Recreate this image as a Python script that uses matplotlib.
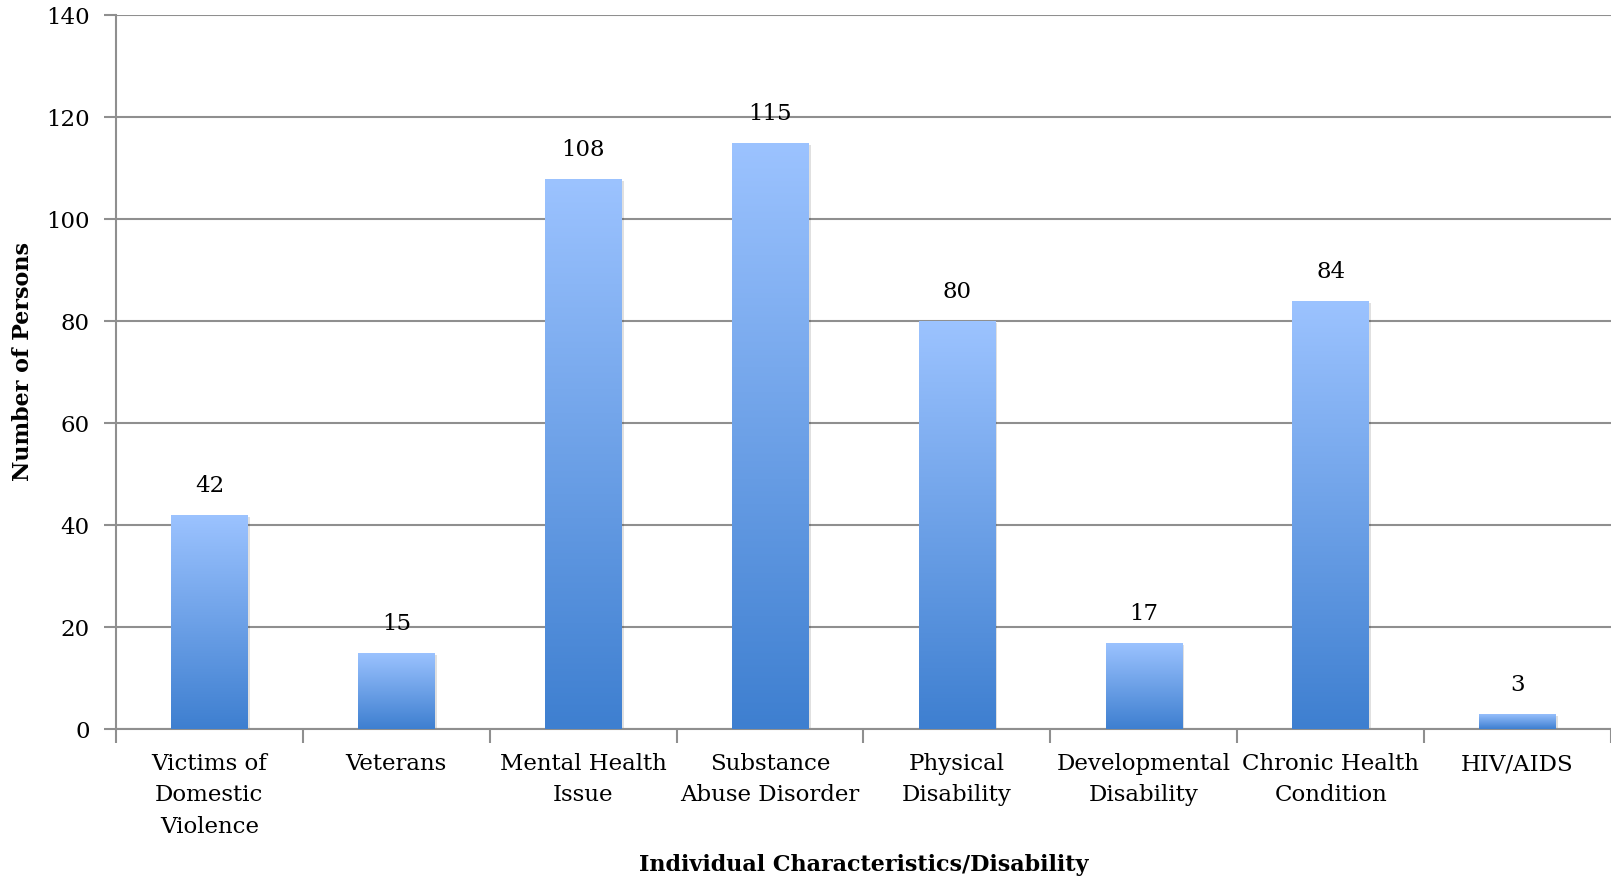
import matplotlib.pyplot as plt
import numpy as np
from matplotlib.colors import LinearSegmentedColormap
from matplotlib.patches import Rectangle

# Datos del gráfico
categorias = ["Victims of\nDomestic\nViolence", "Veterans", "Mental Health\nIssue",
              "Substance\nAbuse Disorder", "Physical\nDisability", "Developmental\nDisability",
              "Chronic Health\nCondition", "HIV/AIDS"]
personas = [42, 15, 108, 115, 80, 17, 84, 3]
y_ticks = [0, 20, 40, 60, 80, 100, 120, 140]

plt.rcParams['font.family'] = ['DejaVu Serif']
gris = '#8f8f8f'

fig = plt.figure(figsize=(16.11, 8.82), dpi=100)
ax = fig.add_axes([0.072, 0.173, 0.928, 0.8095])

x = np.arange(len(personas))
ancho = 0.41
barras = ax.bar(x, personas, width=ancho, color='none', edgecolor='none', zorder=3)

# degradado vertical en cada barra
cmap = LinearSegmentedColormap.from_list('azul', ['#3e7fd0', '#9cc3ff'])
grad = np.linspace(0, 1, 256).reshape(-1, 1)
for b in barras:
    x0, w, h = b.get_x(), b.get_width(), b.get_height()
    sombra = Rectangle((x0 + 0.012, -0.4), w, h, color='#000000', alpha=0.12, zorder=2, lw=0)
    ax.add_patch(sombra)
    im = ax.imshow(grad, cmap=cmap, origin='lower', aspect='auto',
                   extent=(x0, x0 + w, 0, h), zorder=3)
    im.set_clip_path(b)

for xi, v in zip(x, personas):
    ax.annotate(str(v), (xi, v), xytext=(0, 13), textcoords='offset points',
                ha='center', va='bottom', fontsize=16.5)

ax.set_xlim(-0.5, len(personas) - 0.5)
ax.set_ylim(0, 140)
ax.set_yticks(y_ticks)
ax.yaxis.grid(True, color=gris, linewidth=1.5, zorder=0)
ax.set_axisbelow(True)

ax.set_xticks(x)
ax.set_xticklabels(categorias, fontsize=16.5, linespacing=1.55)
ax.set_xticks(np.arange(len(personas) + 1) - 0.5, minor=True)
ax.tick_params(axis='x', which='major', length=0, pad=17)
ax.tick_params(axis='x', which='minor', length=10, width=1.5, color=gris)
ax.tick_params(axis='y', length=9, width=1.5, color=gris, labelsize=16.5, pad=10)

for s in ['top', 'right']:
    ax.spines[s].set_visible(False)
for s in ['left', 'bottom']:
    ax.spines[s].set_color(gris)
    ax.spines[s].set_linewidth(1.5)

fig.text(0.014, 0.5905, 'Number of Persons', rotation=90, ha='center', va='center',
         fontsize=16, fontweight='bold')
fig.text(0.536, 0.019, 'Individual Characteristics/Disability', ha='center', va='center',
         fontsize=16, fontweight='bold')

fig.savefig('out.png', dpi=100)
